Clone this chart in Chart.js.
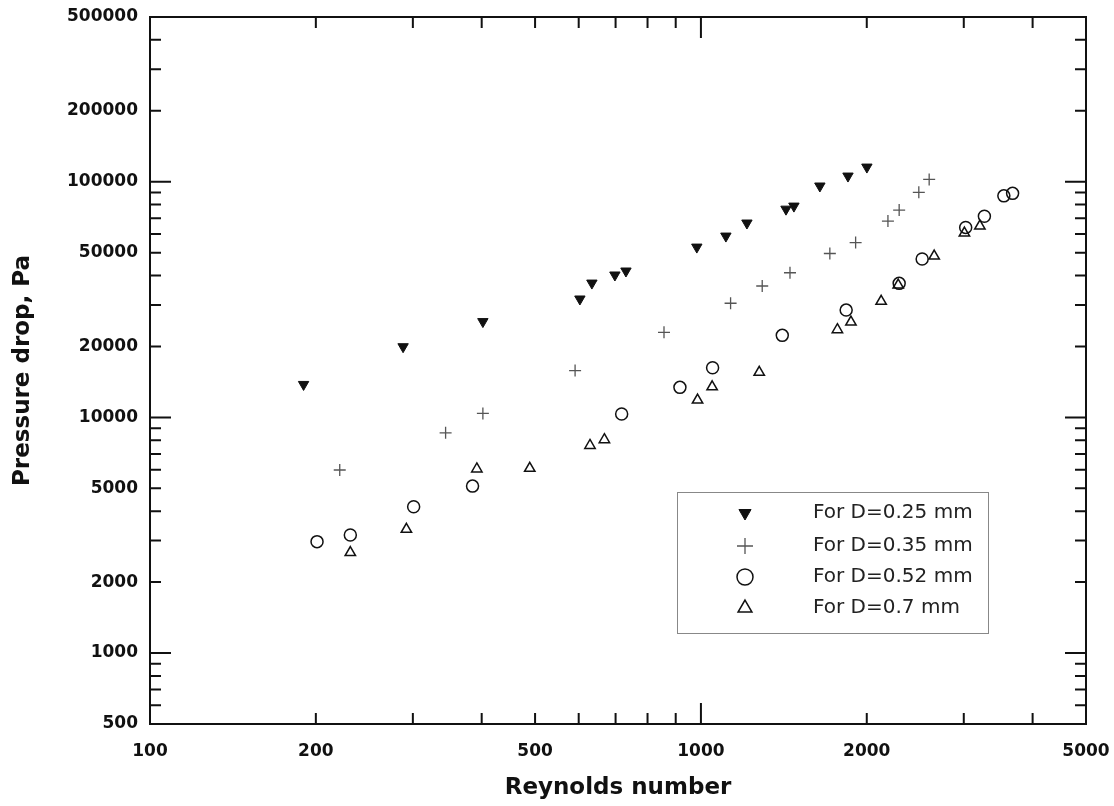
<!DOCTYPE html>
<html>
<head>
<meta charset="utf-8">
<script src="https://cdn.jsdelivr.net/npm/chart.js@4.4.0/dist/chart.umd.min.js"></script>
<style>
  body { margin: 0; background: #fff; }
</style>
</head>
<body>
<canvas id="dpchart" width="1114" height="806"></canvas>
<script>
const xTickLabels = [100, 200, 500, 1000, 2000, 5000];
const yTickLabels = [500, 1000, 2000, 5000, 10000, 20000, 50000, 100000, 200000, 500000];

const seriesNames = ['For D=0.25 mm', 'For D=0.35 mm', 'For D=0.52 mm', 'For D=0.7 mm'];

const re025 = [190, 288, 402, 603, 634, 698, 731, 983, 1110, 1212, 1427, 1475, 1644, 1849, 2001];
const dp025 = [13800, 19950, 25500, 31800, 37150, 40200, 41800, 52800, 58800, 66800, 76500, 78800, 95900, 105700, 115400];

const re035 = [221, 344, 402, 591, 857, 1132, 1292, 1451, 1714, 1909, 2185, 2290, 2486, 2596];
const dp035 = [5980, 8600, 10400, 15800, 22950, 30500, 36100, 41100, 49600, 55200, 68100, 75800, 90200, 102300];

const re052 = [201, 231, 301, 385, 718, 916, 1050, 1405, 1835, 2290, 2521, 3024, 3270, 3547, 3679];
const dp052 = [2970, 3170, 4180, 5110, 10330, 13410, 16240, 22290, 28530, 37040, 46970, 64000, 71350, 87100, 89250];

const re07 = [231, 292, 392, 489, 629, 668, 986, 1048, 1276, 1769, 1872, 2124, 2281, 2651, 3008, 3209];
const dp07 = [2670, 3350, 6040, 6080, 7600, 8040, 11850, 13490, 15530, 23550, 25380, 31080, 36430, 48370, 60570, 64840];

// tick mark positions (inward ticks on all four sides)
const xMajor = [1000];
const xMinor = [200, 300, 400, 500, 600, 700, 800, 900, 2000, 3000, 4000];
const yMajor = [1000, 10000, 100000];
const yMinor = [600, 700, 800, 900, 2000, 3000, 4000, 5000, 6000, 7000, 8000, 9000,
  20000, 30000, 40000, 50000, 60000, 70000, 80000, 90000, 200000, 300000, 400000];

const pts = (xs, ys) => xs.map((v, i) => ({x: v, y: ys[i]}));
const ink = '#111';

const frame = {
  id: 'frame',
  afterDraw(chart) {
    const {ctx, chartArea: a, scales: {x, y}} = chart;
    ctx.save();
    ctx.strokeStyle = ink;
    ctx.lineWidth = 2;
    ctx.strokeRect(a.left, a.top, a.right - a.left, a.bottom - a.top);
    ctx.beginPath();
    const xt = (v, len) => {
      const px = x.getPixelForValue(v);
      ctx.moveTo(px, a.bottom); ctx.lineTo(px, a.bottom - len);
      ctx.moveTo(px, a.top); ctx.lineTo(px, a.top + len);
    };
    const yt = (v, len) => {
      const py = y.getPixelForValue(v);
      ctx.moveTo(a.left, py); ctx.lineTo(a.left + len, py);
      ctx.moveTo(a.right, py); ctx.lineTo(a.right - len, py);
    };
    xMajor.forEach(v => xt(v, 21));
    xMinor.forEach(v => xt(v, 11));
    yMajor.forEach(v => yt(v, 21));
    yMinor.forEach(v => yt(v, 11));
    ctx.stroke();

    // legend box
    const bx = 677, by = 492, bw = 311, bh = 141;
    ctx.fillStyle = '#fff';
    ctx.fillRect(bx, by, bw, bh);
    ctx.lineWidth = 1;
    ctx.strokeStyle = '#888';
    ctx.strokeRect(bx + 0.5, by + 0.5, bw, bh);
    const rows = [513, 546, 577, 608];
    ctx.font = '20px "DejaVu Sans"';
    ctx.textBaseline = 'middle';
    ctx.textAlign = 'left';
    chart.data.datasets.forEach((ds, i) => {
      ctx.fillStyle = ds.backgroundColor;
      ctx.strokeStyle = ds.borderColor;
      ctx.lineWidth = ds.borderWidth;
      Chart.helpers.drawPoint(ctx, {
        pointStyle: ds.pointStyle, rotation: ds.rotation || 0,
        radius: i === 0 ? 7 : 8, borderWidth: ds.borderWidth
      }, 745, rows[i]);
      ctx.fillStyle = '#222';
      ctx.fillText(seriesNames[i], 813, rows[i]);
    });
    ctx.restore();
  }
};

Chart.defaults.font.family = '"DejaVu Sans", sans-serif';

new Chart(document.getElementById('dpchart'), {
  type: 'scatter',
  plugins: [frame],
  data: {
    datasets: [{
      label: seriesNames[0],
      data: pts(re025, dp025),
      pointStyle: 'triangle',
      rotation: 180,
      pointRadius: 6,
      backgroundColor: ink,
      borderColor: ink,
      borderWidth: 1,
    }, {
      label: seriesNames[1],
      data: pts(re035, dp035),
      pointStyle: 'cross',
      pointRadius: 6,
      backgroundColor: '#555',
      borderColor: '#555',
      borderWidth: 1.3,
    }, {
      label: seriesNames[2],
      data: pts(re052, dp052),
      pointStyle: 'circle',
      pointRadius: 6,
      backgroundColor: 'rgba(0,0,0,0)',
      borderColor: ink,
      borderWidth: 1.5,
    }, {
      label: seriesNames[3],
      data: pts(re07, dp07),
      pointStyle: 'triangle',
      pointRadius: 6,
      backgroundColor: 'rgba(0,0,0,0)',
      borderColor: ink,
      borderWidth: 1.5,
    }]
  },
  options: {
    responsive: false,
    animation: false,
    layout: {
      padding: {top: 17, right: 28, left: 0, bottom: 0}
    },
    plugins: {
      legend: {display: false},
      tooltip: {enabled: false}
    },
    scales: {
      x: {
        type: 'logarithmic',
        min: 100,
        max: 5000,
        afterBuildTicks: s => { s.ticks = xTickLabels.map(v => ({value: v})); },
        afterFit: s => { s.height = 82; s.paddingLeft = 0; s.paddingRight = 0; },
        border: {display: false},
        grid: {display: false, drawTicks: false},
        ticks: {
          color: ink,
          padding: 17,
          autoSkip: false,
          maxRotation: 0,
          font: {size: 17, weight: 'bold'},
          callback: v => String(v)
        },
        title: {
          display: true,
          text: 'Reynolds number',
          color: ink,
          font: {size: 23, weight: 'bold'},
          padding: {top: 0, bottom: 4}
        }
      },
      y: {
        type: 'logarithmic',
        min: 500,
        max: 500000,
        afterBuildTicks: s => { s.ticks = yTickLabels.map(v => ({value: v})); },
        afterFit: s => { s.width = 150; s.paddingTop = 0; s.paddingBottom = 0; },
        border: {display: false},
        grid: {display: false, drawTicks: false},
        ticks: {
          color: ink,
          padding: 12,
          autoSkip: false,
          font: {size: 17, weight: 'bold'},
          callback: v => String(v)
        },
        title: {
          display: true,
          text: 'Pressure drop, Pa',
          color: ink,
          font: {size: 23, weight: 'bold'},
          padding: {top: 9, bottom: 0}
        }
      }
    }
  }
});
</script>
</body>
</html>
